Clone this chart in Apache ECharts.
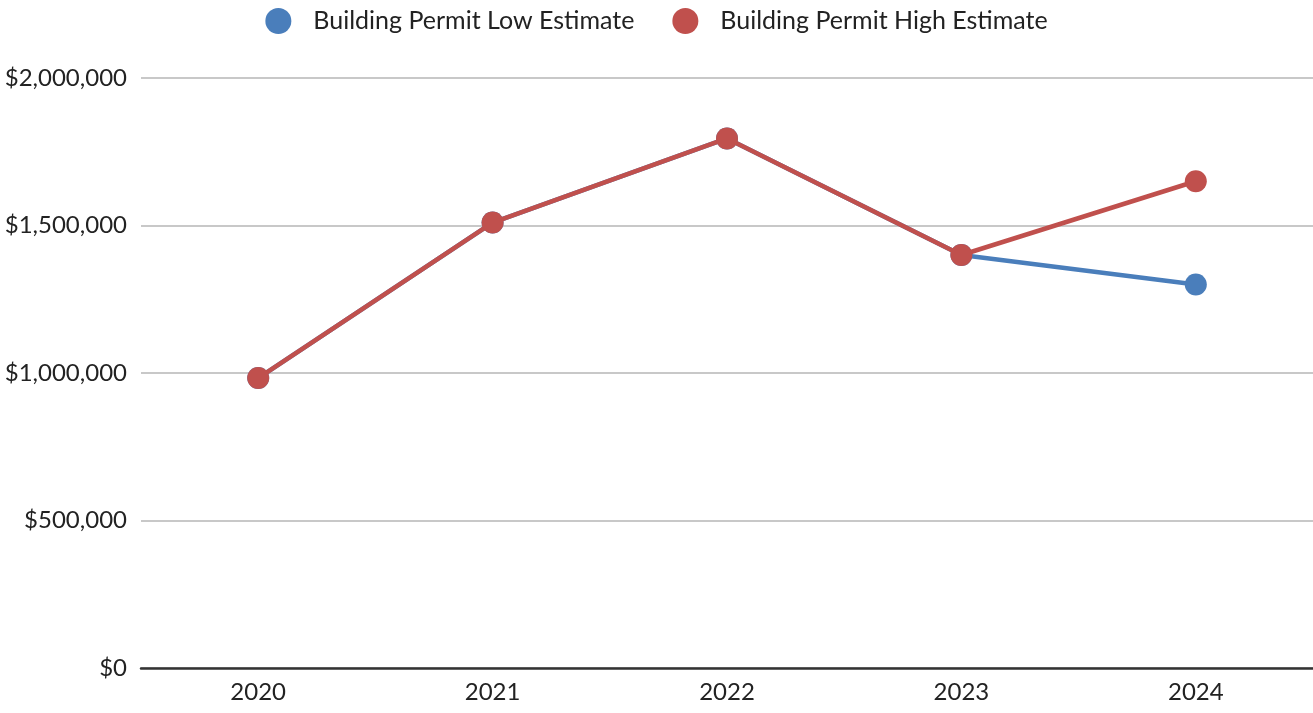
<!DOCTYPE html>
<html>
<head>
<meta charset="utf-8">
<script src="https://cdn.jsdelivr.net/npm/echarts@6/dist/echarts.min.js"></script>
<style>
  html, body { margin: 0; padding: 0; background: #ffffff; }
  #chart { width: 1313px; height: 713px; }
</style>
</head>
<body>
<div id="chart"></div>
<script>
// Building permit value estimates by year
const years = ['2020', '2021', '2022', '2023', '2024'];
const lowEstimate = [983000, 1510000, 1795000, 1400000, 1300000];
const highEstimate = [983000, 1510000, 1795000, 1400000, 1650000];

const seriesNames = ['Building Permit Low Estimate', 'Building Permit High Estimate'];
const blue = '#4a7ebb';
const red = '#c0504d';
const font = 'Lato, "Open Sans", sans-serif';

function money(v) {
  return '$' + v.toLocaleString('en-US');
}

const chart = echarts.init(document.getElementById('chart'), null, { renderer: 'canvas' });

chart.setOption({
  animation: false,
  backgroundColor: '#ffffff',
  textStyle: { fontFamily: font },
  legend: {
    top: 3,
    left: 'center',
    itemWidth: 26,
    itemHeight: 26,
    itemGap: 38,
    icon: 'circle',
    textStyle: { fontSize: 25, color: '#222222', fontFamily: font, padding: [0, 0, 0, 17] },
    data: seriesNames
  },
  grid: { left: 141, right: 0, top: 78, bottom: 45, containLabel: false },
  xAxis: {
    type: 'category',
    data: years,
    boundaryGap: true,
    axisLine: { lineStyle: { color: '#333333', width: 2.5 } },
    axisTick: { show: false },
    axisLabel: { fontSize: 24, color: '#222222', fontFamily: font, margin: 12 }
  },
  yAxis: {
    type: 'value',
    min: 0,
    max: 2000000,
    interval: 500000,
    axisLine: { show: false },
    axisTick: { show: false },
    splitLine: { lineStyle: { color: '#c8c8c8', width: 2 } },
    axisLabel: { fontSize: 24, color: '#222222', fontFamily: font, margin: 14, formatter: money }
  },
  series: [
    {
      name: seriesNames[0],
      type: 'line',
      data: lowEstimate,
      color: blue,
      symbol: 'circle',
      symbolSize: 22,
      lineStyle: { width: 4.5, color: blue },
      itemStyle: { color: blue },
      z: 2
    },
    {
      name: seriesNames[1],
      type: 'line',
      data: highEstimate,
      color: red,
      symbol: 'circle',
      symbolSize: 22,
      lineStyle: { width: 4.5, color: red },
      itemStyle: { color: red },
      z: 3
    }
  ]
});
</script>
</body>
</html>
